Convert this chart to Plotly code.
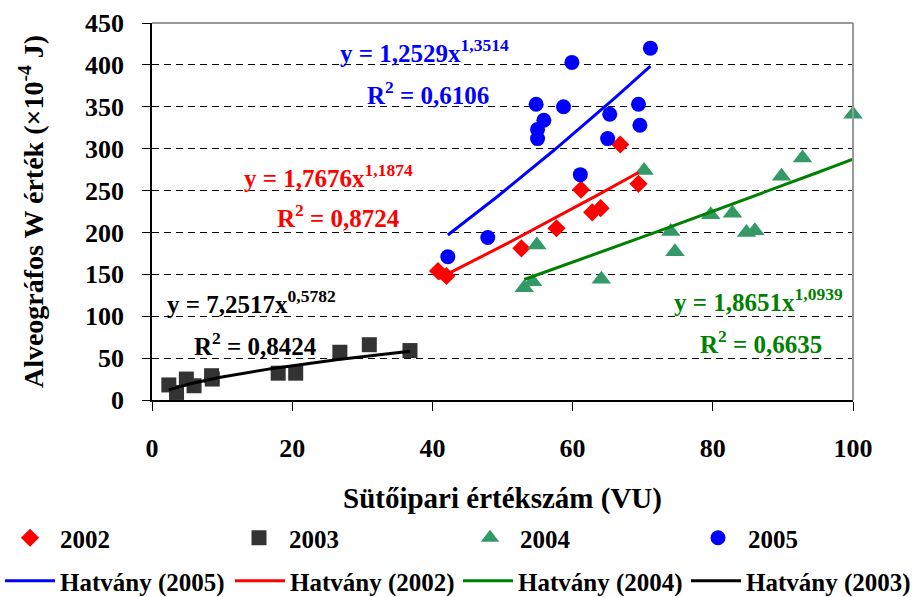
import numpy as np
import plotly.graph_objects as go

# ---------------- data ----------------
x2002 = [40.8, 42.0, 52.7, 57.7, 61.2, 62.8, 64.0, 66.8, 69.4]
y2002 = [154, 148, 181, 205, 251, 224, 229, 305, 258]

x2003 = [2.4, 3.5, 4.9, 6.0, 8.5, 8.6, 18.0, 20.5, 26.8, 31.0, 36.8]
y2003 = [18, 9, 25, 17, 29, 25, 32, 32, 57, 66, 59]

x2004 = [53.1, 54.3, 54.9, 64.1, 70.2, 74.0, 74.6, 79.7, 82.8, 84.8, 86.0, 89.8, 92.8, 100.0]
y2004 = [134, 141, 185, 144, 274, 201, 177, 221, 223, 200, 202, 267, 289, 341]

x2005 = [42.2, 47.9, 54.8, 55.9, 55.0, 55.0, 58.7, 59.9, 61.1, 65.3, 65.0, 69.4, 69.6, 71.1]
y2005 = [171, 194, 353, 334, 323, 312, 350, 403, 269, 341, 312, 353, 328, 420]

# power trend lines y = a * x^b (coefficients as printed on the chart)
fit_a = {"2002": 1.7676, "2003": 7.2517, "2004": 1.8651, "2005": 1.2529}
fit_b = {"2002": 1.1874, "2003": 0.5782, "2004": 1.0939, "2005": 1.3514}
fit_r2 = {"2002": "0,8724", "2003": "0,8424", "2004": "0,6635", "2005": "0,6106"}

x_ticks = [0, 20, 40, 60, 80, 100]
y_ticks = [0, 50, 100, 150, 200, 250, 300, 350, 400, 450]

series = {
    "2002": (x2002, y2002),
    "2003": (x2003, y2003),
    "2004": (x2004, y2004),
    "2005": (x2005, y2005),
}

FONT = "Liberation Serif"
marker_style = {
    "2002": dict(symbol="diamond", color="#FF0000", size=14),
    "2003": dict(symbol="square", color="#333333", size=15),
    "2004": dict(symbol="triangle-up", color="#339966", size=17),
    "2005": dict(symbol="circle", color="#0000FF", size=15),
}
line_color = {"2002": "#FF0000", "2003": "#000000", "2004": "#008000", "2005": "#0000FF"}

# legend entry placement (pixels from left, row centre from top)
marker_legend_x = [0, 229, 460, 688]
line_legend_x = [0, 230, 458, 686]
ROW1_Y, ROW2_Y = 538, 581

fig = go.Figure()
legend_layouts = {}
leg_idx = 0

def next_legend_name():
    global leg_idx
    leg_idx += 1
    return "legend" if leg_idx == 1 else f"legend{leg_idx}"

def legend_cfg(xpx, ypx):
    return dict(orientation="h", xref="container", yref="container",
                x=xpx / 912, y=1 - ypx / 597, xanchor="left", yanchor="middle",
                itemwidth=50, font=dict(family=FONT, size=25), bgcolor="rgba(0,0,0,0)")

for i, yr in enumerate(["2002", "2003", "2004", "2005"]):
    xs, ys = series[yr]
    ln = next_legend_name()
    legend_layouts[ln] = legend_cfg(marker_legend_x[i], ROW1_Y)
    fig.add_trace(go.Scatter(
        x=xs, y=ys, mode="markers", name=f"<b>{yr}</b>", cliponaxis=False,
        marker=dict(symbol=marker_style[yr]["symbol"], color=marker_style[yr]["color"],
                    size=marker_style[yr]["size"], line=dict(width=0)),
        legend=ln,
    ))

for i, yr in enumerate(["2005", "2002", "2004", "2003"]):
    xs, _ = series[yr]
    xf = np.linspace(min(xs), max(xs), 60)
    yf = fit_a[yr] * xf ** fit_b[yr]
    ln = next_legend_name()
    legend_layouts[ln] = legend_cfg(line_legend_x[i], ROW2_Y)
    fig.add_trace(go.Scatter(
        x=xf, y=yf, mode="lines", name=f"<b>Hatvány ({yr})</b>",
        line=dict(color=line_color[yr], width=3),
        legend=ln,
    ))

def fmt(v):
    return f"{v:.4f}".replace(".", ",")

eq_pos = {
    "2005": ((26.5, 417), (30.4, 367)),
    "2002": ((12.8, 267), (17.5, 220)),
    "2003": ((1.9, 117), (5.7, 67)),
    "2004": ((74.2, 119), (77.9, 69)),
}
for yr, ((ex, ey), (rx, ry)) in eq_pos.items():
    c = line_color[yr]
    fig.add_annotation(x=ex, y=ey, xref="x", yref="y", xanchor="left", yanchor="middle",
                       text=f"<b>y = {fmt(fit_a[yr])}x<sup>{fmt(fit_b[yr])}</sup></b>",
                       showarrow=False, font=dict(family=FONT, size=25, color=c))
    fig.add_annotation(x=rx, y=ry, xref="x", yref="y", xanchor="left", yanchor="middle",
                       text=f"<b>R<sup>2</sup> = {fit_r2[yr]}</b>",
                       showarrow=False, font=dict(family=FONT, size=25, color=c))

# gray frame (top & right)
fig.add_shape(type="line", xref="paper", yref="paper", x0=0, x1=1, y0=1, y1=1,
              line=dict(color="#999999", width=2))
fig.add_shape(type="line", xref="paper", yref="paper", x0=1, x1=1, y0=0, y1=1,
              line=dict(color="#999999", width=2))

fig.update_layout(
    width=912, height=597,
    margin=dict(l=152, r=59, t=23, b=197, autoexpand=False),
    paper_bgcolor="white", plot_bgcolor="white",
    font=dict(family=FONT, size=24, color="black"),
    xaxis=dict(
        range=[0, 100], tickvals=x_ticks, ticktext=[f"<b>{v}</b>" for v in x_ticks],
        showgrid=False, zeroline=False, automargin=False,
        showline=True, linecolor="black", linewidth=1.5,
        ticks="outside", ticklen=9, tickcolor="black",
        ticklabelstandoff=15,
        tickfont=dict(family=FONT, size=26),
        title=dict(text="<b>Sütőipari értékszám (VU)</b>", standoff=42,
                   font=dict(family=FONT, size=29)),
    ),
    yaxis=dict(
        range=[0, 450], tickvals=y_ticks, ticktext=[f"<b>{v}</b>" for v in y_ticks],
        showgrid=True, gridcolor="black",
        griddash="7px,5px", gridwidth=1, zeroline=False, automargin=False,
        showline=True, linecolor="black", linewidth=1.5,
        ticks="outside", ticklen=8, tickcolor="black",
        ticklabelstandoff=13,
        tickfont=dict(family=FONT, size=26),
        title=dict(text="<b>Alveográfos W érték (×10<sup>-4</sup> J)</b>", standoff=33,
                   font=dict(family=FONT, size=28)),
    ),
    showlegend=True,
    **legend_layouts,
)

fig.write_html("out.html", config={"displayModeBar": False},
               post_script="document.body.style.margin='0px';")
